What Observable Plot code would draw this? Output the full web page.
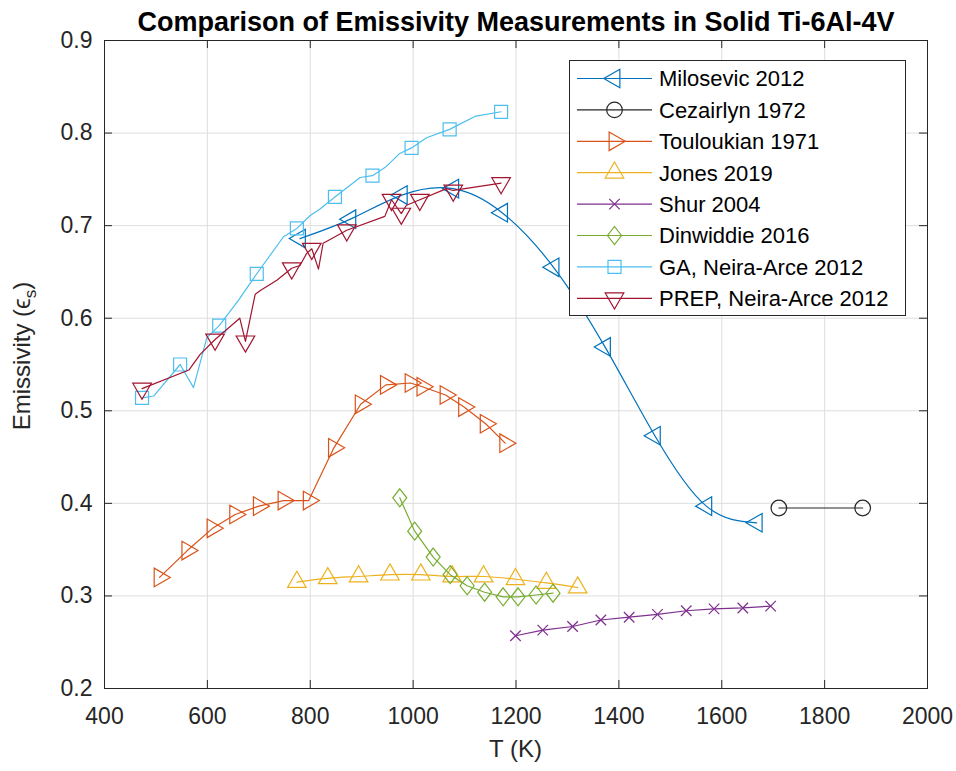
<!DOCTYPE html>
<html><head><meta charset="utf-8">
<script src="https://cdn.jsdelivr.net/npm/d3@7"></script>
<script src="https://cdn.jsdelivr.net/npm/@observablehq/plot@0.6"></script>
<style>
body{margin:0;background:#fff;}
svg{font-family:"Liberation Sans",Arial,sans-serif;}
</style>
</head><body><div id="chart"></div>
<script>
// ---------- data ----------
const titleText = "Comparison of Emissivity Measurements in Solid Ti-6Al-4V";
const xTicks = [400, 600, 800, 1000, 1200, 1400, 1600, 1800, 2000];
const yTicks = [0.2, 0.3, 0.4, 0.5, 0.6, 0.7, 0.8, 0.9];

const seriesNames = ["Milosevic 2012", "Cezairlyn 1972", "Touloukian 1971", "Jones 2019",
  "Shur 2004", "Dinwiddie 2016", "GA, Neira-Arce 2012", "PREP, Neira-Arce 2012"];
const seriesColors = ["#0072BD", "#262626", "#D95319", "#EDB120", "#7E2F8E", "#77AC30", "#4DBEEE", "#A2142F"];

const milosevicT = [780, 878, 978, 1078, 1173, 1273, 1373, 1470, 1570, 1668];
const milosevicE = [0.686, 0.707, 0.733, 0.740, 0.714, 0.655, 0.569, 0.473, 0.397, 0.379];

const cezairlynT = [1711, 1874];
const cezairlynE = [0.395, 0.395];

const touloukianT = [507, 561, 610, 654, 700, 748, 797, 846, 898, 947, 995, 1018, 1063, 1099, 1141, 1179];
const touloukianE = [0.320, 0.349, 0.373, 0.388, 0.397, 0.403, 0.403, 0.460, 0.507, 0.528, 0.530, 0.526, 0.517, 0.504, 0.486, 0.465];

const jonesT = [774, 834, 894, 955, 1015, 1076, 1137, 1199, 1259, 1320];
const jonesE = [0.315, 0.319, 0.321, 0.323, 0.323, 0.321, 0.321, 0.318, 0.314, 0.309];

const shurT = [1199, 1252, 1310, 1365, 1420, 1475, 1531, 1585, 1641, 1695];
const shurE = [0.257, 0.263, 0.267, 0.274, 0.277, 0.280, 0.284, 0.286, 0.287, 0.289];

const dinwiddieT = [974, 1003, 1039, 1072, 1105, 1139, 1175, 1204, 1239, 1272];
const dinwiddieE = [0.406, 0.370, 0.342, 0.323, 0.311, 0.304, 0.299, 0.299, 0.301, 0.303];

const gaT = [473, 496, 547, 573, 599, 623, 660, 696, 748, 774, 800, 819, 848, 897, 921, 948, 974, 997, 1026, 1071, 1120, 1171];
const gaE = [0.514, 0.516, 0.550, 0.525, 0.579, 0.592, 0.619, 0.648, 0.688, 0.697, 0.711, 0.718, 0.731, 0.752, 0.754, 0.764, 0.778, 0.784, 0.795, 0.804, 0.818, 0.823];
const gaMarkers = [473, 547, 623, 696, 774, 848, 921, 997, 1071, 1171];

const prepT = [473, 564, 586, 615, 663, 674, 693, 703, 735, 764, 780, 793, 803, 816, 825, 835, 871, 945, 958, 977, 987, 1013, 1065, 1078, 1171];
const prepE = [0.524, 0.544, 0.561, 0.577, 0.600, 0.575, 0.626, 0.630, 0.641, 0.654, 0.657, 0.670, 0.675, 0.653, 0.681, 0.684, 0.695, 0.710, 0.728, 0.713, 0.722, 0.728, 0.740, 0.738, 0.746];
const prepMarkers = [473, 615, 674, 764, 803, 871, 958, 977, 1013, 1078, 1171];

// ---------- symbols ----------
function triSym(dir) {
  return {draw(ctx, size) {
    const r = Math.sqrt(size / Math.PI), a = r * 0.777, s = Math.sqrt(3) * a;
    const pts = {
      up: [[0, -2 * a], [s, a], [-s, a]],
      down: [[0, 2 * a], [s, -a], [-s, -a]],
      right: [[2 * a, 0], [-a, s], [-a, -s]],
      left: [[-2 * a, 0], [a, s], [a, -s]]
    }[dir];
    ctx.moveTo(pts[0][0], pts[0][1]); ctx.lineTo(pts[1][0], pts[1][1]); ctx.lineTo(pts[2][0], pts[2][1]); ctx.closePath();
  }};
}
const diamondSym = {draw(ctx, size) {
  const r = Math.sqrt(size / Math.PI), h = r * 1.2, w = r * 0.93;
  ctx.moveTo(0, -h); ctx.lineTo(w, 0); ctx.lineTo(0, h); ctx.lineTo(-w, 0); ctx.closePath();
}};
const squareSym = {draw(ctx, size) {
  const r = Math.sqrt(size / Math.PI), h = r * 0.89;
  ctx.rect(-h, -h, 2 * h, 2 * h);
}};
const timesSym = {draw(ctx, size) {
  const r = Math.sqrt(size / Math.PI), h = r * 1.05;
  ctx.moveTo(-h, -h); ctx.lineTo(h, h); ctx.moveTo(-h, h); ctx.lineTo(h, -h);
}};
const circleSym = {draw(ctx, size) {
  const r = Math.sqrt(size / Math.PI);
  ctx.moveTo(r, 0); ctx.arc(0, 0, r, 0, 2 * Math.PI);
}};

const seriesSymbols = [triSym("left"), circleSym, triSym("right"), triSym("up"), timesSym, diamondSym, squareSym, triSym("down")];
const seriesR = [6.9, 7.8, 6.9, 6.9, 5, 7.5, 7.3, 6.9];

// ---------- build tables ----------
const allT = [milosevicT, cezairlynT, touloukianT, jonesT, shurT, dinwiddieT, gaT, prepT];
const allE = [milosevicE, cezairlynE, touloukianE, jonesE, shurE, dinwiddieE, gaE, prepE];
const markerSets = [null, null, null, null, null, null, gaMarkers, prepMarkers];
const curves = ["natural", "linear", "linear", "natural", "linear", "linear", "linear", "linear"];

const W = 956, H = 771, mL = 104, mR = 29, mT = 40, mB = 83;
const frameW = W - mL - mR, frameH = H - mT - mB;
const tickLen = 8;
const axisColor = "#262626";

const marks = [
  Plot.gridX(xTicks, {stroke: "#dedede", strokeOpacity: 1, strokeWidth: 1}),
  Plot.gridY(yTicks, {stroke: "#dedede", strokeOpacity: 1, strokeWidth: 1})
];
seriesNames.forEach((name, i) => {
  const rows = allT[i].map((t, j) => ({T: t, E: allE[i][j]}));
  const mk = markerSets[i] ? rows.filter(d => markerSets[i].includes(d.T)) : rows;
  marks.push(Plot.line(rows, {x: "T", y: "E", stroke: seriesColors[i], strokeWidth: 1.2, curve: curves[i]}));
  marks.push(Plot.dot(mk, {x: "T", y: "E", stroke: seriesColors[i], fill: "none", strokeWidth: 1.2,
    symbol: seriesSymbols[i], r: seriesR[i]}));
});
marks.push(
  Plot.frame({stroke: axisColor, strokeWidth: 1}),
  Plot.tickX(xTicks, {x: d => d, stroke: axisColor, insetTop: frameH - tickLen}),
  Plot.tickX(xTicks, {x: d => d, stroke: axisColor, insetBottom: frameH - tickLen}),
  Plot.tickY(yTicks, {y: d => d, stroke: axisColor, insetRight: frameW - tickLen}),
  Plot.tickY(yTicks, {y: d => d, stroke: axisColor, insetLeft: frameW - tickLen}),
  Plot.axisX(xTicks, {anchor: "bottom", tickSize: 0, tickPadding: 19, fontSize: 23, fill: axisColor, label: null, tickFormat: d => String(d)}),
  Plot.axisY(yTicks, {anchor: "left", tickSize: 0, tickPadding: 12, fontSize: 23, fill: axisColor, label: null, tickFormat: d => d.toFixed(1)}),
  Plot.text([titleText], {text: d => d, frameAnchor: "top", lineAnchor: "middle", dy: -18, fontSize: 27, fontWeight: "bold", fill: "#000"})
);

const svg = Plot.plot({
  width: W, height: H,
  marginLeft: mL, marginRight: mR, marginTop: mT, marginBottom: mB,
  x: {domain: [400, 2000]},
  y: {domain: [0.2, 0.9]},
  style: {fontFamily: '"Liberation Sans", Arial, sans-serif', background: "#fff"},
  marks
});
document.getElementById("chart").appendChild(svg);

// ---------- axis labels ----------
const s = d3.select(svg);
s.append("text").attr("x", mL + frameW / 2).attr("y", 757).attr("text-anchor", "middle")
  .attr("font-size", 24).attr("fill", axisColor).text("T (K)");
const yl = s.append("text").attr("transform", `translate(30,${mT + frameH / 2 - 8}) rotate(-90)`)
  .attr("text-anchor", "middle").attr("font-size", 24).attr("fill", axisColor);
yl.append("tspan").text("Emissivity (ϵ");
yl.append("tspan").attr("dy", 6).attr("font-size", 17).text("s");
yl.append("tspan").attr("dy", -6).text(")");

// ---------- legend ----------
const lg = s.append("g").attr("transform", "translate(569.5,60.5)").attr("text-anchor", "start");
lg.append("rect").attr("width", 336).attr("height", 255).attr("fill", "#fff").attr("stroke", axisColor);
seriesNames.forEach((name, i) => {
  const y = 18 + i * 31.4;
  const row = lg.append("g").attr("transform", `translate(0,${y})`);
  row.append("line").attr("x1", 7.5).attr("x2", 82.5).attr("stroke", seriesColors[i]).attr("stroke-width", 1.2);
  row.append("path").attr("transform", "translate(45,0)")
    .attr("d", d3.symbol(seriesSymbols[i], Math.PI * seriesR[i] * seriesR[i])())
    .attr("fill", "none").attr("stroke", seriesColors[i]).attr("stroke-width", 1.2);
  row.append("text").attr("x", 89.5).attr("dy", "0.36em").attr("text-anchor", "start")
    .attr("font-size", 22).attr("fill", "#000").text(name);
});
</script>
</body></html>
